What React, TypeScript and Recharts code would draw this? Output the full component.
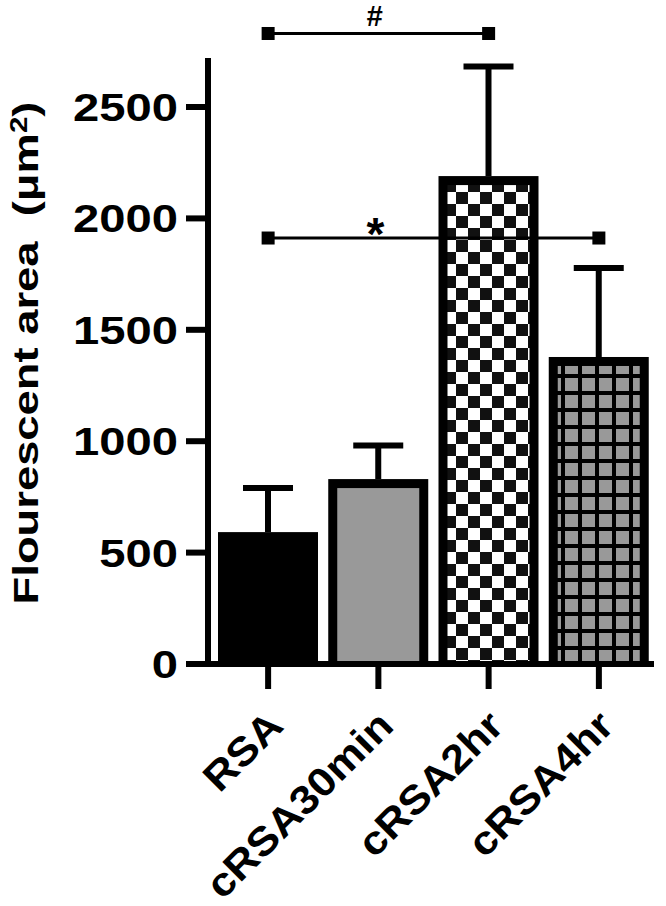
import React from 'react'
import {
  BarChart,
  Bar,
  XAxis,
  YAxis,
  ReferenceLine,
  ReferenceDot,
} from 'recharts'

const groups = ['RSA', 'cRSA30min', 'cRSA2hr', 'cRSA4hr']
const means = [592, 830, 2190, 1378]
const sems = [198, 151, 492, 399]
const yTicks = [0, 500, 1000, 1500, 2000, 2500]
const yMax = 2720

// significance brackets
const hashY = 2830
const starY = 1912

const data = groups.map((name, i) => ({
  name,
  mean: means[i],
  sem: sems[i],
}))

const fills = ['#000', '#999', 'url(#checker)', 'url(#grid)']
const FONT = '"Liberation Sans", Arial, sans-serif'

// bar with inset border plus an upward-only SEM whisker (px from the bar's own scale)
function BarShape(props: any) {
  const { x, y, width, height, index, payload } = props
  const b = 9
  const cx = x + width / 2
  const errPx = payload.mean ? (height * payload.sem) / payload.mean : 0
  const top = y - errPx
  return (
    <g>
      <line x1={cx} x2={cx} y1={y} y2={top} stroke="#000" strokeWidth={6} />
      <line x1={cx - 25} x2={cx + 25} y1={top} y2={top} stroke="#000" strokeWidth={6} />
      <rect x={x} y={y} width={width} height={height} fill="#000" />
      {index > 0 && (
        <rect x={x + b} y={y + b} width={width - 2 * b} height={height - b} fill={fills[index]} />
      )}
    </g>
  )
}

function YTick(props: any) {
  const { x, y, payload } = props
  return (
    <text
      transform={`translate(${x},${y + 14}) scale(1.21,1)`}
      textAnchor="end"
      fontFamily={FONT}
      fontWeight="bold"
      fontSize={39}
      fill="#000"
    >
      {payload.value}
    </text>
  )
}

function XTick(props: any) {
  const { x, payload } = props
  return (
    <text
      transform={`translate(${x + 17},728) rotate(-45) scale(1.1,1)`}
      textAnchor="end"
      fontFamily={FONT}
      fontWeight="bold"
      fontSize={40}
      fill="#000"
    >
      {payload.value}
    </text>
  )
}

const square = (p: any) => <rect x={p.cx - 6.5} y={p.cy - 6.5} width={13} height={13} fill="#000" />

export default function App() {
  return (
    <div style={{ position: 'absolute', left: 0, top: 0, background: '#fff' }}>
      <BarChart
        width={666}
        height={906}
        data={data}
        margin={{ top: 58, right: 12, left: 0, bottom: 0 }}
        barSize={100}
      >
        <defs>
          <pattern id="checker" patternUnits="userSpaceOnUse" width={24} height={24}>
            <rect width={24} height={24} fill="#fff" />
            <rect width={12} height={12} fill="#111" />
            <rect x={12} y={12} width={12} height={12} fill="#111" />
          </pattern>
          <pattern id="grid" patternUnits="userSpaceOnUse" width={17} height={17}>
            <rect width={17} height={17} fill="#000" />
            <rect x={4} y={4} width={13} height={13} fill="#999" />
          </pattern>
        </defs>
        <XAxis
          dataKey="name"
          padding={{ left: 5, right: 0 }}
          height={242}
          tickSize={25}
          tickLine={{ stroke: '#000', strokeWidth: 6 }}
          axisLine={{ stroke: '#000', strokeWidth: 6 }}
          tick={<XTick />}
          interval={0}
        />
        <YAxis
          width={208}
          domain={[0, yMax]}
          ticks={yTicks}
          tickSize={22}
          tickMargin={8}
          tickLine={{ stroke: '#000', strokeWidth: 6 }}
          axisLine={{ stroke: '#000', strokeWidth: 6 }}
          tick={<YTick />}
          label={() => (
            <text
              transform="translate(38,353) rotate(-90) scale(1.26,1)"
              textAnchor="middle"
              fontFamily={FONT}
              fontWeight="bold"
              fontSize={36}
              fill="#000"
            >
              Flourescent area{'\u00a0\u00a0'}(μm
              <tspan dy="-0.45em" fontSize="0.65em">2</tspan>
              <tspan dy="0.3em">)</tspan>
            </text>
          )}
        />
        <Bar dataKey="mean" shape={<BarShape />} isAnimationActive={false} />
        <ReferenceLine
          segment={[{ x: 'RSA', y: hashY }, { x: 'cRSA2hr', y: hashY }]}
          stroke="#000"
          strokeWidth={3}
          ifOverflow="visible"
        />
        <ReferenceDot x="RSA" y={hashY} ifOverflow="visible" shape={square} />
        <ReferenceDot x="cRSA2hr" y={hashY} ifOverflow="visible" shape={square} />
        <ReferenceDot
          x="cRSA30min"
          y={hashY}
          ifOverflow="visible"
          shape={(p: any) => (
            <text x={p.cx - 4} y={p.cy - 7} textAnchor="middle" fontFamily={FONT} fontWeight="bold" fontStyle="italic" fontSize={29}>
              #
            </text>
          )}
        />
        <ReferenceLine
          segment={[{ x: 'RSA', y: starY }, { x: 'cRSA4hr', y: starY }]}
          stroke="#000"
          strokeWidth={3}
          ifOverflow="visible"
        />
        <ReferenceDot x="RSA" y={starY} ifOverflow="visible" shape={square} />
        <ReferenceDot x="cRSA4hr" y={starY} ifOverflow="visible" shape={square} />
        <ReferenceDot
          x="cRSA30min"
          y={starY}
          ifOverflow="visible"
          shape={(p: any) => (
            <text x={p.cx - 3} y={p.cy + 12} textAnchor="middle" fontFamily={FONT} fontWeight="bold" fontSize={46}>
              *
            </text>
          )}
        />
      </BarChart>
    </div>
  )
}
